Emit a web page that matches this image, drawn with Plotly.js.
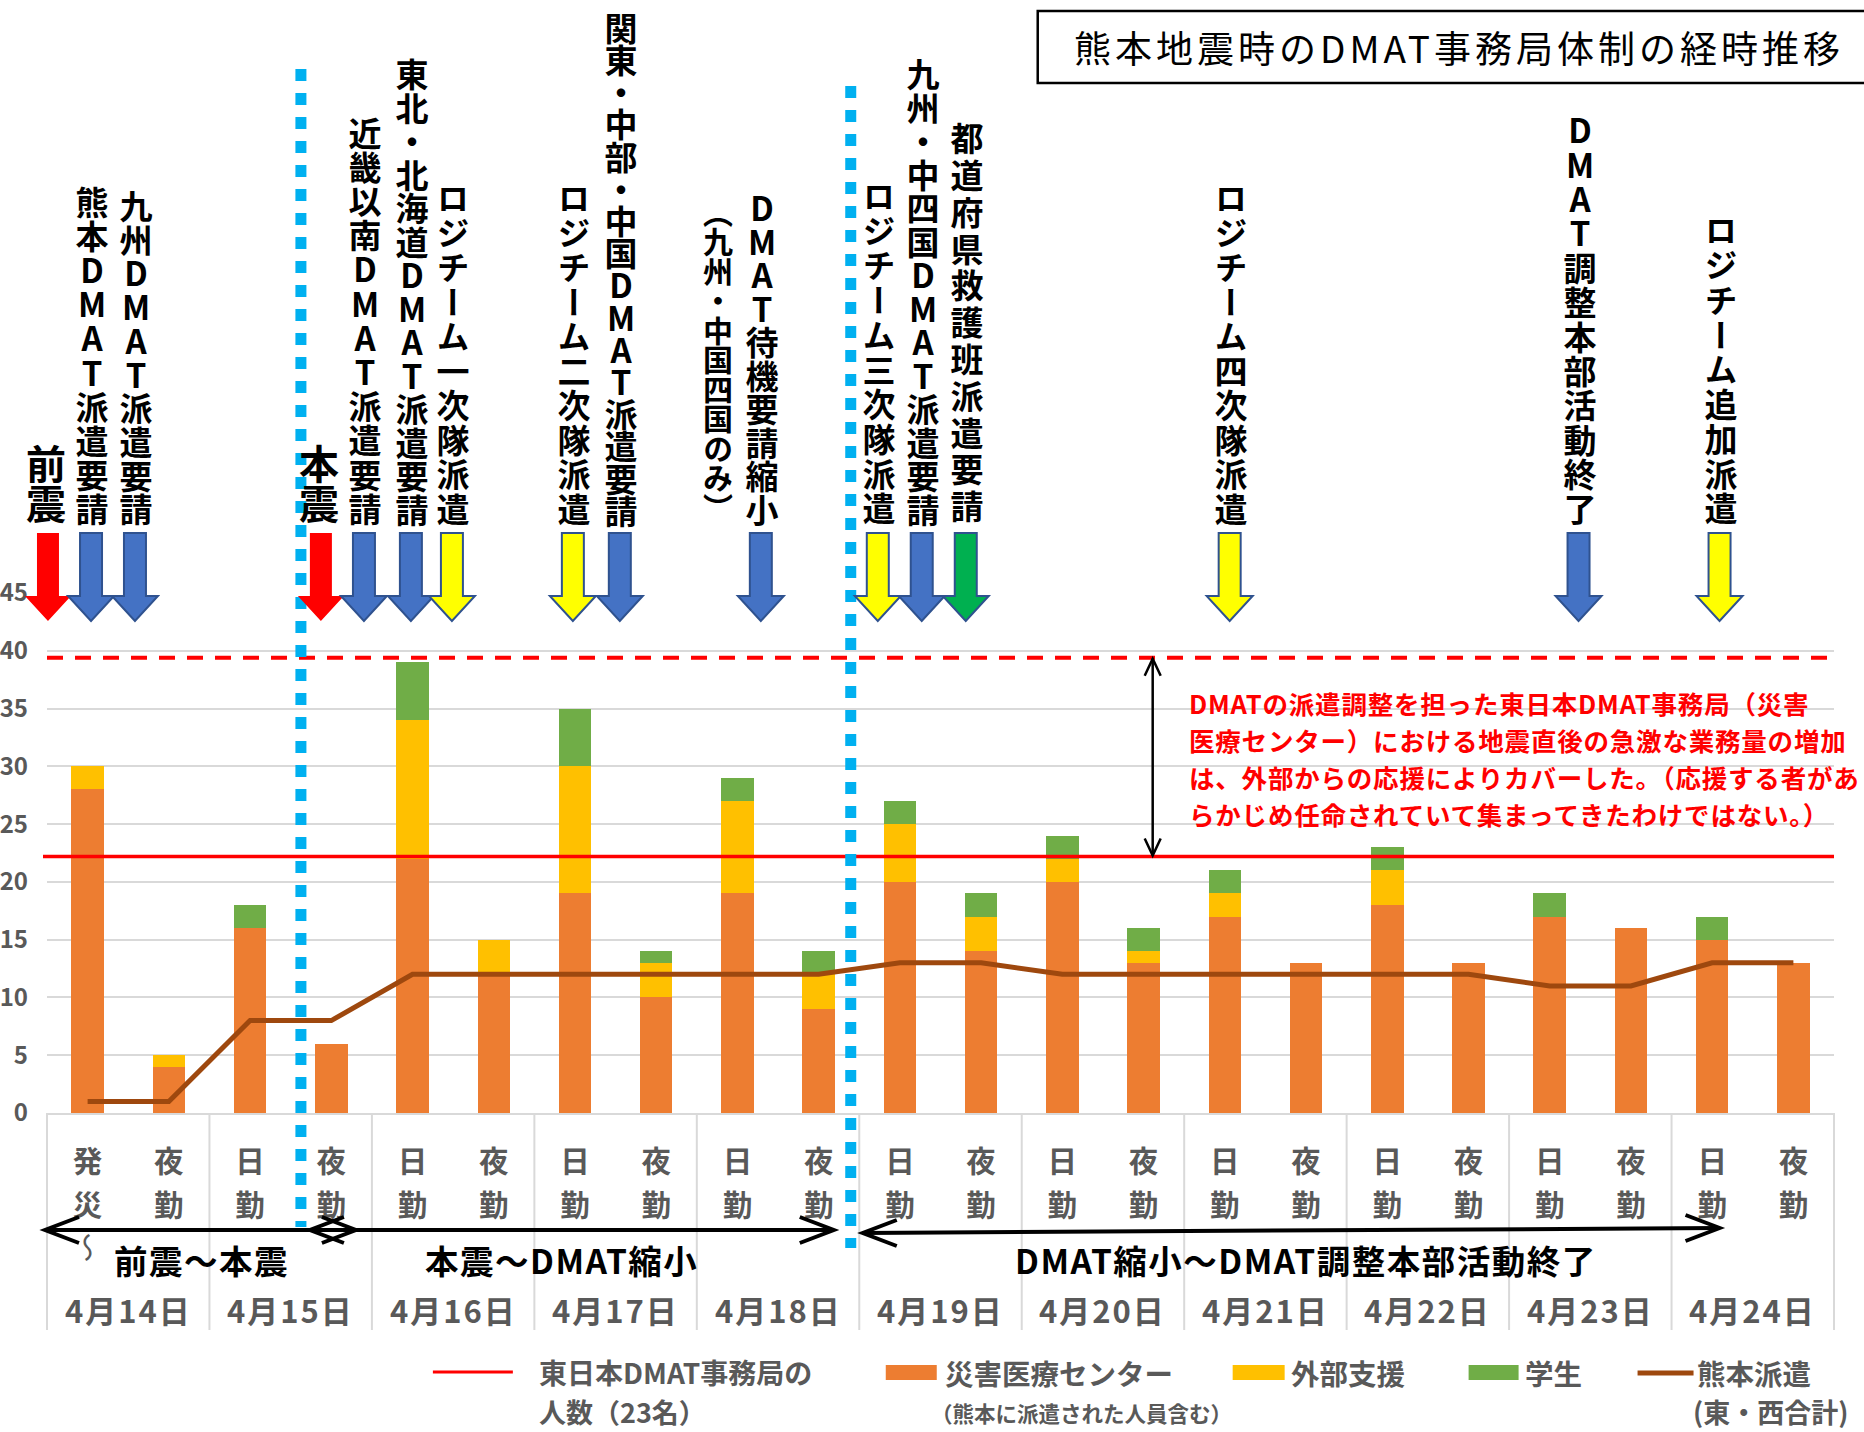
<!DOCTYPE html>
<html><head><meta charset="utf-8">
<script src="https://cdn.plot.ly/plotly-3.0.1.min.js"></script>
<style>html,body{margin:0;padding:0;background:#fff}#chart{width:1864px;height:1432px;position:relative}</style>
</head><body><div id="chart"></div>
<script>
// ---------------- data ----------------
const dates = ['4月14日','4月15日','4月16日','4月17日','4月18日','4月19日','4月20日','4月21日','4月22日','4月23日','4月24日'];
const shifts = ['発災～','夜勤','日勤','夜勤','日勤','夜勤','日勤','夜勤','日勤','夜勤','日勤','夜勤','日勤','夜勤','日勤','夜勤','日勤','夜勤','日勤','夜勤','日勤','夜勤'];
const centerStaff     = [28,4,16,6,22,12,19,10,19,9,20,14,20,13,17,13,18,13,17,16,15,13];
const externalSupport = [2,1,0,0,12,3,11,3,8,3,5,3,2,1,2,0,3,0,0,0,0,0];
const students        = [0,0,2,0,5,0,5,1,2,2,2,2,2,2,2,0,2,0,2,0,2,0];
const kumamotoDispatch= [1,1,8,8,12,12,12,12,12,12,13,13,12,12,12,12,12,12,11,11,13,13];
const eastStaffLevel = 22.2;   // 東日本DMAT事務局の人数
const peakLevel = 39.4;        // 地震直後のピーク
const seriesNames = ['災害医療センター','外部支援','学生','熊本派遣'];
const periods = ['前震～本震','本震～DMAT縮小','DMAT縮小～DMAT調整本部活動終了'];
const titleText = '熊本地震時のDMAT事務局体制の経時推移';
const noteLines = ['DMATの派遣調整を担った東日本DMAT事務局（災害','医療センター）における地震直後の急激な業務量の増加','は、外部からの応援によりカバーした。（応援する者があ','らかじめ任命されていて集まってきたわけではない。）'];
// events: category position (index), arrow colour, label
const events = [
  {at:-0.488, c:'red',    t:'前震', big:true},
  {at:0.042,  c:'blue',   t:'熊本DMAT派遣要請', p:34.1},
  {at:0.583,  c:'blue',   t:'九州DMAT派遣要請', p:33.7},
  {at:2.872,  c:'red',    t:'本震', big:true},
  {at:3.402,  c:'blue',   t:'近畿以南DMAT派遣要請', p:34.2},
  {at:3.980,  c:'blue',   t:'東北・北海道DMAT派遣要請', p:33.5},
  {at:4.485,  c:'yellow', t:'ロジチーム一次隊派遣', p:34.5},
  {at:5.974,  c:'yellow', t:'ロジチーム二次隊派遣', p:34.5},
  {at:6.552,  c:'blue',   t:'関東・中部・中国DMAT派遣要請', p:32.2},
  {at:7.746,  c:null,     t:'（九州・中国四国のみ）', p:29.5, fs:30},
  {at:8.288,  c:'blue',   t:'DMAT待機要請縮小', p:33.5},
  {at:9.728,  c:'yellow', t:'ロジチーム三次隊派遣', p:34.7},
  {at:10.269, c:'blue',   t:'九州・中四国DMAT派遣要請', p:33.5},
  {at:10.811, c:'green',  t:'都道府県救護班派遣要請', p:36.8},
  {at:14.060, c:'yellow', t:'ロジチーム四次隊派遣', p:34.5},
  {at:18.355, c:'blue',   t:'DMAT調整本部活動終了', p:34.4},
  {at:20.091, c:'yellow', t:'ロジチーム追加派遣', p:34.75}
];

// ---------------- geometry helpers ----------------
const W=1864, H=1432, L=47, R=1834.5, T=593, B=1113, N=shifts.length, YMAX=45;
const catW=(R-L)/N;
const px2x = p => (p-L)/(R-L);
const px2y = p => (B-p)/(B-T);
const val2px = v => B - v*(B-T)/YMAX;
const catPx = i => L+(i+0.5)*catW;
const FONT = '"Noto Sans CJK JP","Noto Sans",sans-serif';
const GRAY = '#595959';
const VERT = "font-feature-settings:'vert' 1";

const cats = shifts.map((s,i)=>dates[Math.floor(i/2)]+' '+s);
const tickText = shifts.map(s=>'<span style="font-size:29.5px">'+Array.from(s).map(ch=> ch==='～' ? `<span style="${VERT};font-weight:normal">${ch}</span>` : ch).join('<br>')+'</span>');

const traces = [
  {type:'bar', x:cats, y:centerStaff, name:seriesNames[0], marker:{color:'#ED7D31'}, hoverinfo:'skip'},
  {type:'bar', x:cats, y:externalSupport, name:seriesNames[1], marker:{color:'#FFC000'}, hoverinfo:'skip'},
  {type:'bar', x:cats, y:students, name:seriesNames[2], marker:{color:'#70AD47'}, hoverinfo:'skip'},
  {type:'scatter', mode:'lines', x:cats, y:kumamotoDispatch, name:seriesNames[3], line:{color:'#9E480E', width:5}, hoverinfo:'skip'}
];

const shapes = [];
const annotations = [];
const P = (x,y)=> px2x(x)+','+px2y(y);
const polyline = (pts, color, width)=>({type:'path', xref:'paper', yref:'paper',
  path:'M'+pts.map(p=>P(p[0],p[1])).join('L'), line:{color, width}, fillcolor:'rgba(0,0,0,0)'});

// day dividers below axis
for(let k=0;k<=N;k+=2){
  const xp = L + k*catW;
  shapes.push({type:'line', xref:'paper', yref:'paper', x0:px2x(xp), x1:px2x(xp), y0:0, y1:px2y(1330), line:{color:'#D9D9D9', width:2}});
}
// reference lines
shapes.push({type:'line', xref:'paper', yref:'y', x0:0, x1:1, y0:peakLevel, y1:peakLevel, line:{color:'#FF0000', width:4, dash:'16px,12px'}});
shapes.push({type:'line', xref:'paper', yref:'y', x0:px2x(43), x1:1, y0:eastStaffLevel, y1:eastStaffLevel, line:{color:'#FF0000', width:3.5}});
// blue dotted separators
[[2.626,69,1227],[9.395,86,1248]].forEach(s=>{
  const xp = px2x(catPx(s[0]));
  shapes.push({type:'line', xref:'paper', yref:'paper', x0:xp, x1:xp, y0:px2y(s[1]), y1:px2y(s[2]), line:{color:'#00B0F0', width:11, dash:'12px,12px'}});
});

// block arrows
const fills = {red:'#FF0000', blue:'#4472C4', yellow:'#FFFF00', green:'#00B050'};
events.forEach(e=>{
  if(!e.c) return;
  const cx = catPx(e.at);
  const top=533, neck=596, tip=621, sw=11, hw=23;
  const path = 'M'+P(cx-sw,top)+'L'+P(cx+sw,top)+'L'+P(cx+sw,neck)+'L'+P(cx+hw,neck)+'L'+P(cx,tip)+'L'+P(cx-hw,neck)+'L'+P(cx-sw,neck)+'Z';
  shapes.push({type:'path', xref:'paper', yref:'paper', path, fillcolor:fills[e.c],
    line:{color: e.c==='red' ? '#FF0000' : '#2F528F', width: e.c==='red'?0:2}});
});

// title box
shapes.push({type:'rect', xref:'paper', yref:'paper', x0:px2x(1038), x1:px2x(1868), y0:px2y(11), y1:px2y(83), line:{color:'#000', width:2.5}, fillcolor:'rgba(0,0,0,0)'});
annotations.push({xref:'paper', yref:'paper', x:px2x(1072), y:px2y(47), xanchor:'left', yanchor:'middle', showarrow:false,
  text:`<span style="letter-spacing:4px">${titleText}</span>`, font:{family:FONT, size:37, color:'#000'}});

// note and its double arrow between the two reference levels
annotations.push({xref:'paper', yref:'paper', x:px2x(1188), y:px2y(683), xanchor:'left', yanchor:'top', showarrow:false, align:'left', borderpad:0,
  text:'<span style="font-size:25.5px;letter-spacing:0.8px">'+noteLines.join('<br>')+'</span>', font:{family:FONT, size:28.4, color:'#FF0000', weight:'bold'}});
{
  const ax = 1153, y0 = val2px(peakLevel)+1, y1 = val2px(eastStaffLevel)-1;
  shapes.push(polyline([[ax,y0],[ax,y1]], '#000', 2.5));
  shapes.push(polyline([[ax-8,y0+17],[ax,y0],[ax+8,y0+17]], '#000', 2.5));
  shapes.push(polyline([[ax-8,y1-17],[ax,y1],[ax+8,y1-17]], '#000', 2.5));
}

// period arrows (double headed)
const periodArrows = [[45,1230,356,1230],[310,1230,834,1230],[863,1233,1720,1228]];
periodArrows.forEach(a=>{
  const hl=34, hh=13;
  shapes.push(polyline([[a[0],a[1]],[a[2],a[3]]], '#000', 4));
  shapes.push(polyline([[a[0]+hl,a[1]-hh],[a[0],a[1]],[a[0]+hl,a[1]+hh]], '#000', 4));
  shapes.push(polyline([[a[2]-hl,a[3]-hh],[a[2],a[3]],[a[2]-hl,a[3]+hh]], '#000', 4));
});
const periodCenters = [202,562,1306];
periods.forEach((t,i)=>{
  annotations.push({xref:'paper', yref:'paper', x:px2x(periodCenters[i]), y:px2y(1259), xanchor:'center', yanchor:'middle', showarrow:false, borderpad:0,
    text:`<span style="letter-spacing:1.5px">${t}</span>`, font:{family:FONT, size:33.5, color:'#000', weight:'bold'}});
});
// dates
dates.forEach((d,k)=>{
  annotations.push({xref:'x', yref:'paper', x:2*k+0.5, y:px2y(1309), xanchor:'center', yanchor:'middle', showarrow:false, borderpad:0,
    text:`<span style="letter-spacing:2px">${d}</span>`, font:{family:FONT, size:31, color:GRAY, weight:'bold'}});
});

// legend (drawn manually)
shapes.push({type:'line', xref:'paper', yref:'paper', x0:px2x(433), x1:px2x(513), y0:px2y(1372), y1:px2y(1372), line:{color:'#FF0000', width:3}});
shapes.push({type:'rect', xref:'paper', yref:'paper', x0:px2x(886), x1:px2x(937), y0:px2y(1365), y1:px2y(1380), fillcolor:'#ED7D31', line:{width:0}});
shapes.push({type:'rect', xref:'paper', yref:'paper', x0:px2x(1233), x1:px2x(1285), y0:px2y(1365), y1:px2y(1380), fillcolor:'#FFC000', line:{width:0}});
shapes.push({type:'rect', xref:'paper', yref:'paper', x0:px2x(1469), x1:px2x(1519), y0:px2y(1365), y1:px2y(1380), fillcolor:'#70AD47', line:{width:0}});
shapes.push({type:'line', xref:'paper', yref:'paper', x0:px2x(1638), x1:px2x(1694), y0:px2y(1373), y1:px2y(1373), line:{color:'#9E480E', width:5}});
const legText = [
  ['東日本DMAT事務局の',538,1372,28],['人数（23名）',538,1411,27],
  [seriesNames[0],944,1372,28.5],['（熊本に派遣された人員含む）',930,1412,21.5],
  [seriesNames[1],1290,1372,28.5],[seriesNames[2],1524,1372,28.5],
  [seriesNames[3],1696,1372,28.5],['(東・西合計)',1692,1411,27]
];
legText.forEach(l=>{
  annotations.push({xref:'paper', yref:'paper', x:px2x(l[1]), y:px2y(l[2]), xanchor:'left', yanchor:'middle', showarrow:false, borderpad:0,
    text:l[0], font:{family:FONT, size:l[3], color:GRAY, weight:'bold'}});
});

const layout = {
  width:W, height:H, autosize:false,
  margin:{l:L, r:W-R, t:T, b:H-B, pad:0},
  paper_bgcolor:'#fff', plot_bgcolor:'#fff',
  font:{family:FONT},
  barmode:'stack', bargap:0.6, showlegend:false,
  xaxis:{type:'category', tickvals:cats, ticktext:tickText, ticks:'', showgrid:false, zeroline:false,
    showline:true, linecolor:'#D9D9D9', linewidth:2, ticklabelstandoff:17,
    tickfont:{family:FONT, size:33.4, color:GRAY, weight:'bold'}, fixedrange:true},
  yaxis:{range:[0,YMAX], tick0:0, dtick:5, showgrid:true, gridcolor:'#D9D9D9', gridwidth:2, zeroline:false, showline:false,
    ticks:'', ticklabelstandoff:18, tickfont:{family:FONT, size:24, color:GRAY, weight:'bold'}, fixedrange:true},
  shapes, annotations
};

// vertical (tategaki) event labels, one text run per label
function addVerticalLabels(gd){
  const NS='http://www.w3.org/2000/svg';
  const svgs = gd.querySelectorAll('svg.main-svg');
  const host = svgs[svgs.length-1];
  const g = document.createElementNS(NS,'g');
  g.setAttribute('class','vertical-labels');
  events.forEach(e=>{
    const fs = e.big ? 40 : (e.fs || 33);
    const pitch = e.big ? 40 : e.p;
    const t = document.createElementNS(NS,'text');
    t.setAttribute('x', (catPx(e.at) + (e.big?-2:1)).toFixed(1));
    t.setAttribute('y', e.big ? 524 : (e.c ? 527 : 522));
    t.setAttribute('text-anchor','end');
    t.setAttribute('style', `writing-mode:vertical-rl;text-orientation:upright;font-family:${FONT};font-weight:700;font-size:${fs}px;letter-spacing:${(pitch-fs).toFixed(2)}px;fill:#000`);
    t.textContent = e.t;
    g.appendChild(t);
  });
  host.appendChild(g);
}

Plotly.newPlot('chart', traces, layout, {displayModeBar:false, staticPlot:true}).then(addVerticalLabels);
</script>
</body></html>
